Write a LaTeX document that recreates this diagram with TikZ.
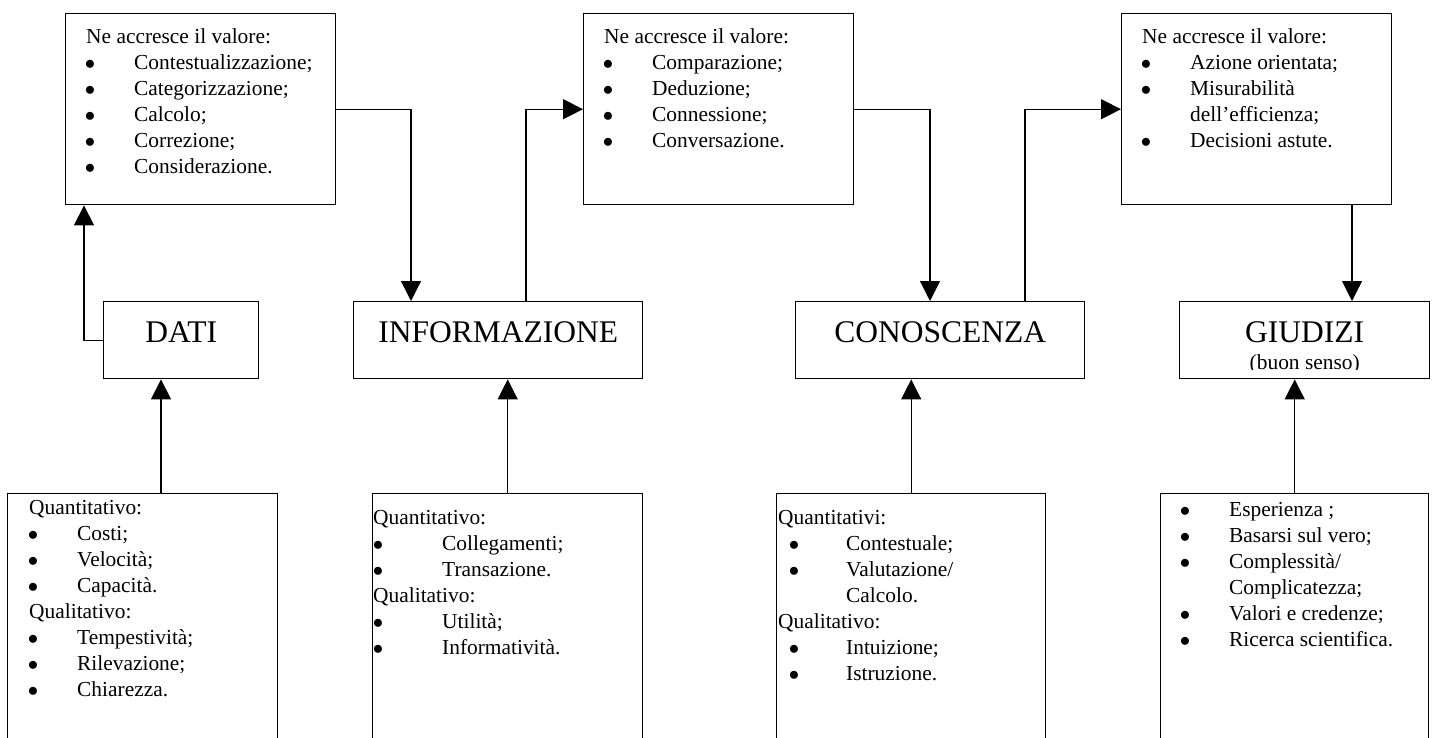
\documentclass[tikz,border=0pt]{standalone}
\usepackage{fontspec}
\setmainfont{Liberation Serif}
\usetikzlibrary{arrows.meta}

% bullet lists: \bpre = space before the bullet, \boff = indent of the item text
\newlength\bpre
\newlength\boff
\newcommand\bitem[1]{\makebox[\boff][l]{\hspace*{\bpre}$\bullet$}#1}
\newcommand\bcont[1]{\hspace*{\boff}#1}
\newcommand\itemlist[3]{\parbox[t]{320pt}{\raggedright\fontsize{21.4}{26}\selectfont
  \setlength\bpre{#1}\setlength\boff{#2}#3}}

\tikzset{
  box/.style={draw, line width=1.4pt, inner sep=0pt, anchor=north west},
  mainbox/.style={box, font=\fontsize{31.5}{36}\selectfont,
    text height=25pt, text depth=20pt},
  listtext/.style={anchor=base west, inner sep=0pt},
  conn/.style={line width=1.2pt},
  arr/.style={conn, -{Triangle[length=20pt,width=20pt]}},
}

\begin{document}
\begin{tikzpicture}[x=1pt, y=-1pt]
\useasboundingbox (0,0) rectangle (1434,738);
\clip (0,0) rectangle (1434,738);

% value-adding boxes along the top
\node[box, minimum width=270pt, minimum height=191pt] (t1) at (65,13) {};
\node[box, minimum width=270pt, minimum height=191pt] (t2) at (583,13) {};
\node[box, minimum width=270pt, minimum height=191pt] (t3) at (1121,13) {};

% the four stages
\node[mainbox, minimum width=155pt, minimum height=77pt] (dati) at (103,301) {DATI};
\node[mainbox, minimum width=289pt, minimum height=77pt] (info) at (353,301) {INFORMAZIONE};
\node[mainbox, minimum width=289pt, minimum height=77pt] (cono) at (795,301) {CONOSCENZA};
\node[mainbox, minimum width=250pt, minimum height=77pt] (giu) at (1179,301) {GIUDIZI};
\begin{scope}
  \clip (giu.north west) rectangle ([yshift=9.5pt]giu.south east);
  \node[anchor=base, inner sep=0pt, font=\fontsize{21.4}{26}\selectfont]
    (giusub) at (giu.center |- 0,369.5) {(buon senso)};
\end{scope}

% characteristics boxes along the bottom (open below)
\node[box, minimum width=270pt, minimum height=270pt] (b1) at (7,493) {};
\node[box, minimum width=270pt, minimum height=270pt] (b2) at (372,493) {};
\node[box, minimum width=269pt, minimum height=270pt] (b3) at (776,493) {};
\node[box, minimum width=268pt, minimum height=270pt] (b4) at (1160,493) {};

% texts of the top boxes
\node[listtext] (t1txt) at (86,44) {\itemlist{-1.3pt}{48pt}{%
  Ne accresce il valore:\\
  \bitem{Contestualizzazione;}\\
  \bitem{Categorizzazione;}\\
  \bitem{Calcolo;}\\
  \bitem{Correzione;}\\
  \bitem{Considerazione.}}};
\node[listtext] (t2txt) at (604,44) {\itemlist{-1.3pt}{48pt}{%
  Ne accresce il valore:\\
  \bitem{Comparazione;}\\
  \bitem{Deduzione;}\\
  \bitem{Connessione;}\\
  \bitem{Conversazione.}}};
\node[listtext] (t3txt) at (1142,44) {\itemlist{-1.3pt}{48pt}{%
  Ne accresce il valore:\\
  \bitem{Azione orientata;}\\
  \bitem{Misurabilità}\\
  \bcont{dell’efficienza;}\\
  \bitem{Decisioni astute.}}};

% texts of the bottom boxes
\node[listtext] (b1txt) at (29,514) {\itemlist{-1.3pt}{48pt}{%
  Quantitativo:\\
  \bitem{Costi;}\\
  \bitem{Velocità;}\\
  \bitem{Capacità.}\\
  Qualitativo:\\
  \bitem{Tempestività;}\\
  \bitem{Rilevazione;}\\
  \bitem{Chiarezza.}}};
\node[listtext] (b2txt) at (373,524) {\itemlist{-0.3pt}{69pt}{%
  Quantitativo:\\
  \bitem{Collegamenti;}\\
  \bitem{Transazione.}\\
  Qualitativo:\\
  \bitem{Utilità;}\\
  \bitem{Informatività.}}};
\node[listtext] (b3txt) at (778,524) {\itemlist{10.6pt}{68pt}{%
  Quantitativi:\\
  \bitem{Contestuale;}\\
  \bitem{Valutazione/}\\
  \bcont{Calcolo.}\\
  Qualitativo:\\
  \bitem{Intuizione;}\\
  \bitem{Istruzione.}}};
\node[listtext] (b4txt) at (1181,516) {\itemlist{-1.3pt}{48pt}{%
  \bitem{Esperienza ;}\\
  \bitem{Basarsi sul vero;}\\
  \bitem{Complessità/}\\
  \bcont{Complicatezza;}\\
  \bitem{Valori e credenze;}\\
  \bitem{Ricerca scientifica.}}};

% connectors
\draw[arr] ([xshift=154pt]b1.north west) -- ([xshift=154pt]b1.north west |- dati.south);
\draw[arr] (dati.west) -| ([xshift=19pt]t1.south west);
\draw[arr] (t1.east) -| ([xshift=58pt]info.north west);
\draw[arr] (b2.north) -- (b2.north |- info.south);
\draw[arr] ([xshift=173pt]info.north west) |- (t2.west);
\draw[arr] (t2.east) -| ([xshift=135pt]cono.north west);
\draw[arr] (b3.north) -- (b3.north |- cono.south);
\draw[arr] ([xshift=230pt]cono.north west) |- (t3.west);
\draw[arr] ([xshift=231pt]t3.south west) -- ([xshift=231pt]t3.south west |- giu.north);
\draw[arr] (b4.north) -- (b4.north |- giu.south);
\end{tikzpicture}
\end{document}
